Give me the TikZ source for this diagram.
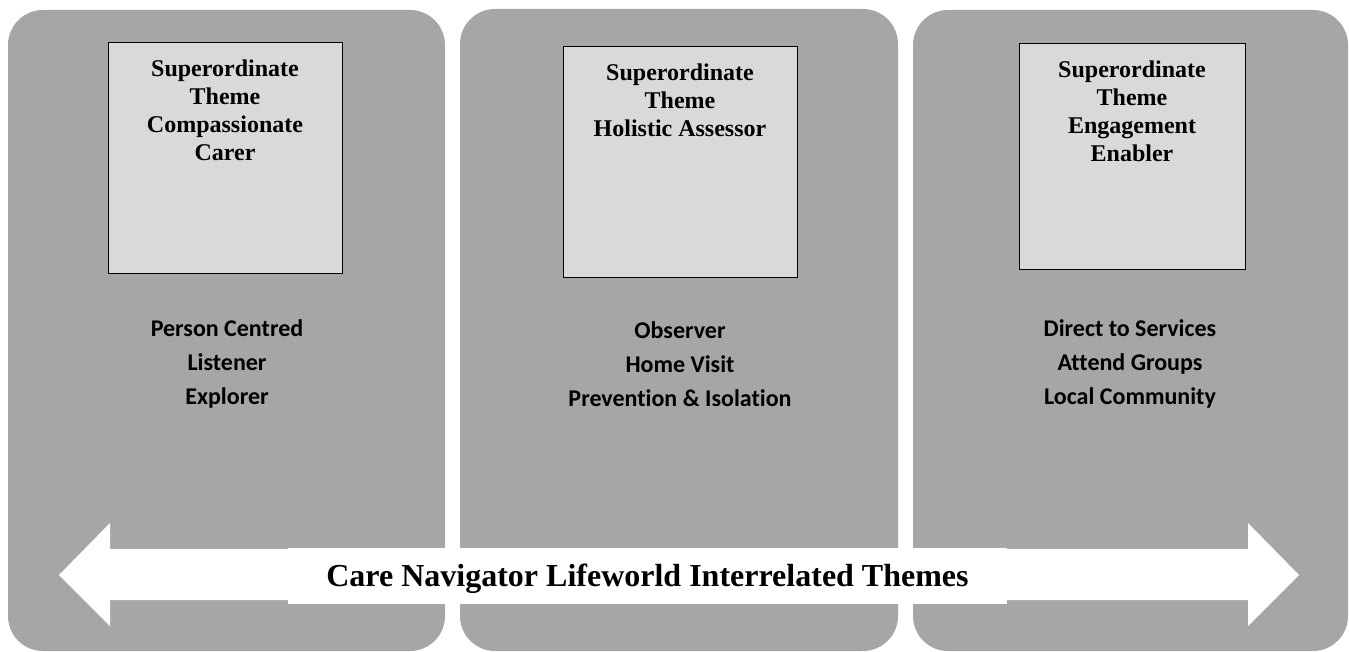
\documentclass[tikz,border=0pt]{standalone}
\usepackage{fontspec}
\setmainfont{Liberation Serif}
\newfontfamily\calib[Ligatures={NoCommon}]{Carlito}
\definecolor{panelgray}{HTML}{A6A6A6}
\definecolor{boxgray}{HTML}{D9D9D9}
\begin{document}
\begin{tikzpicture}[x=1pt,y=-1pt,
  panel/.style={fill=panelgray,draw=none,rounded corners=35pt},
  themebox/.style={fill=boxgray,draw=black,line width=1pt},
  themetext/.style={anchor=north,align=center,inner sep=0pt,font=\fontsize{24}{28}\selectfont\bfseries},
  subtext/.style={align=center,inner sep=0pt,font=\calib\fontsize{24}{34}\selectfont\bfseries},
  bandtext/.style={fill=white,inner sep=0pt,font=\fontsize{32}{38}\selectfont\bfseries}]
\useasboundingbox (0,0) rectangle (1349,652);
% panels
\fill[panel] (8,10) rectangle (445,651);
\fill[panel] (460,9) rectangle (898,651);
\fill[panel] (913,10) rectangle (1348,651);
% theme boxes
\draw[themebox] (108,43) rectangle (342,274);
\node[themetext] (t1) at (225,60) {Superordinate\\Theme\\Compassionate\\Carer};
\draw[themebox] (563,47) rectangle (797,278);
\node[themetext] (t2) at (680,64) {Superordinate\\Theme\\Holistic Assessor};
\draw[themebox] (1019,44) rectangle (1245,270);
\node[themetext] (t3) at (1132,61) {Superordinate\\Theme\\Engagement\\Enabler};
% sub themes
\node[subtext] (s1) at (227,364) {Person Centred\\Listener\\Explorer};
\node[subtext] (s2) at (680,364) {Observer\\Home Visit\\Prevention \& Isolation};
\node[subtext] (s3) at (1130,364) {Direct to Services\\Attend Groups\\Local Community};
% double arrow
\fill[white] (59,575) -- (110,523) -- (110,549) -- (1248,549) -- (1248,523)
  -- (1299,575) -- (1248,626) -- (1248,600) -- (110,600) -- (110,626) -- cycle;
\fill[white] (288,548) rectangle (1007,604);
\node[bandtext] (band) at (647.5,579) {Care Navigator Lifeworld Interrelated Themes};
\end{tikzpicture}
\end{document}
